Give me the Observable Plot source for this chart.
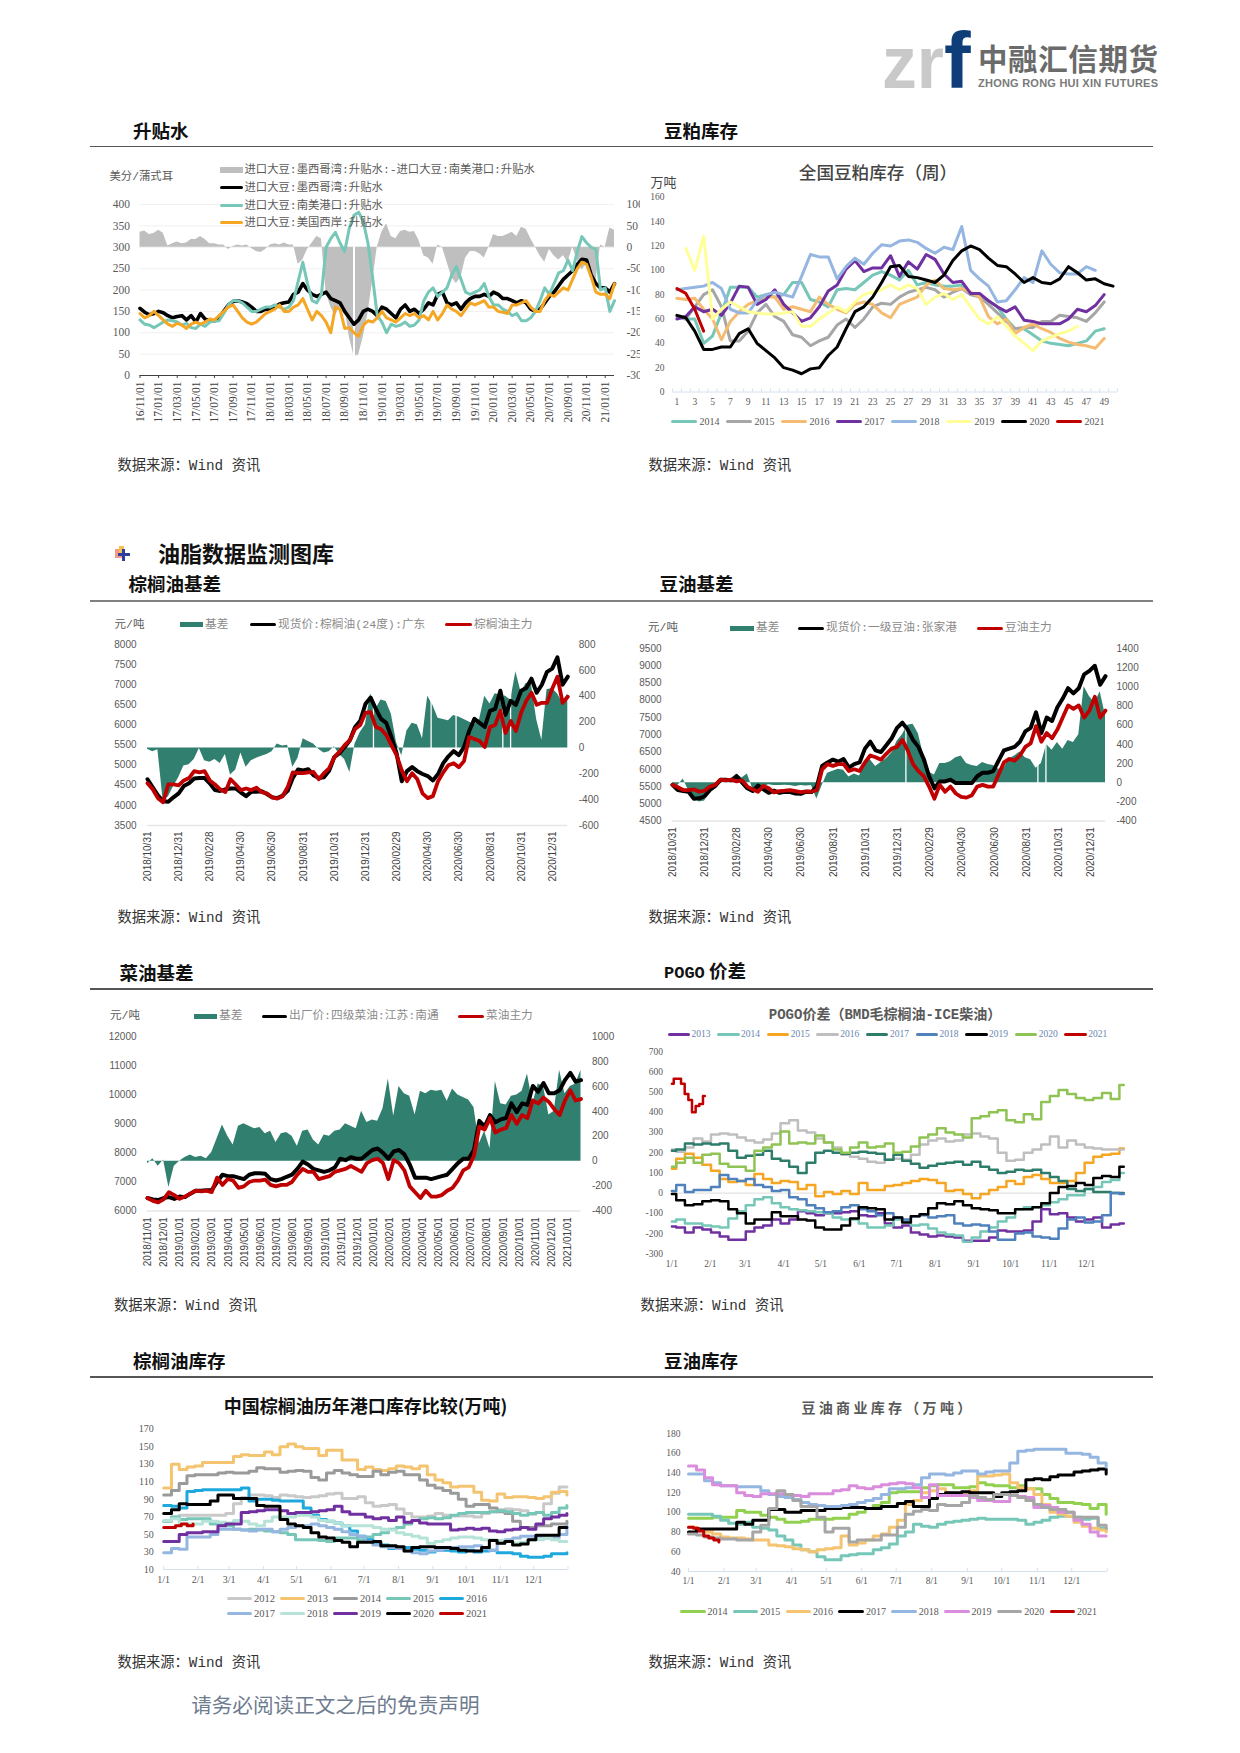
<!DOCTYPE html>
<html><head><meta charset="utf-8">
<script src="https://cdn.jsdelivr.net/npm/d3@7"></script>
<script src="https://cdn.jsdelivr.net/npm/@observablehq/plot@0.6"></script>
<style>
html,body{margin:0;padding:0;background:#fff}
#page{position:relative;width:1240px;height:1753px;overflow:hidden;font-family:"Noto Sans CJK SC",sans-serif;background:#fff}
.t{position:absolute;white-space:nowrap;line-height:1.1}
.b{position:absolute}
</style></head><body><div id="page"></div>
<script>
/* ---------- chart 1: 升贴水 ---------- */
const c1Labels=["16/11/01","17/01/01","17/03/01","17/05/01","17/07/01","17/09/01","17/11/01","18/01/01","18/03/01","18/05/01","18/07/01","18/09/01","18/11/01","19/01/01","19/03/01","19/05/01","19/07/01","19/09/01","19/11/01","20/01/01","20/03/01","20/05/01","20/07/01","20/09/01","20/11/01","21/01/01"];
const c1Black=[157,148,142,145,150,147,140,135,138,140,130,140,125,145,132,128,128,135,150,165,173,175,172,168,160,150,150,155,153,160,167,170,172,190,195,215,200,190,185,190,195,180,175,170,150,135,120,130,150,155,150,140,160,155,145,135,155,165,150,155,145,155,170,165,190,195,170,165,170,155,170,180,185,185,190,185,195,190,180,180,175,170,175,170,155,150,155,170,185,195,210,225,235,245,260,272,270,235,215,205,205,195,215];
const c1Teal=[130,120,118,112,118,125,130,128,125,118,122,112,110,120,115,125,127,128,145,165,175,175,170,160,150,150,155,160,160,165,160,155,160,175,220,265,215,175,170,190,300,320,335,310,290,345,375,382,360,310,230,140,125,100,120,115,118,125,115,118,130,175,195,205,185,195,205,235,255,225,195,190,195,200,215,185,165,165,155,150,140,145,128,128,135,150,175,205,190,215,240,245,270,245,290,325,310,300,295,200,205,150,175];
const c1Orange=[145,135,140,150,140,130,120,115,122,118,110,120,125,120,125,132,130,140,150,160,165,150,135,125,120,125,135,145,150,155,165,150,150,160,165,180,155,130,150,140,125,100,160,155,110,112,100,92,118,128,125,135,150,135,130,125,135,145,140,145,135,140,130,150,130,145,165,155,150,140,155,170,165,170,175,160,160,150,148,145,165,165,170,175,160,150,150,175,190,185,195,205,200,225,250,265,260,230,195,190,190,180,215];
const c1Basis=[35,38,30,32,40,33,3,8,12,8,10,18,18,25,18,8,8,5,5,-5,2,5,3,5,-3,-10,-12,-5,5,8,5,10,5,5,-40,-30,-5,10,25,20,-105,-140,-160,-140,-140,-210,-255,-252,-210,-155,-80,0,35,55,25,20,37,40,35,37,15,-20,-25,-40,5,0,-35,-70,-85,-70,-25,-10,-10,-15,-25,0,30,25,25,30,35,25,47,42,20,0,-20,-35,-5,-20,-30,-20,-35,0,-30,-53,-40,-65,-80,5,0,45,40];

/* ---------- chart 2: 豆粕库存 ---------- */
const c2Y2014=[62,60,60,40,46,65,86,86,86,78,80,78,80,90,90,76,74,70,84,85,84,90,96,99,96,92,100,88,90,88,87,87,88,80,80,75,70,60,52,52,47,42,40,39,38,40,42,50,52];
const c2Y2015=[62,60,70,80,84,70,42,42,50,65,72,62,58,47,45,38,42,45,55,60,53,60,70,73,72,78,82,84,86,84,78,82,85,80,78,72,65,58,52,53,53,58,58,63,62,61,58,65,74];
const c2Y2016=[77,76,77,68,60,43,58,66,72,75,78,78,68,70,68,66,78,72,68,65,72,74,72,65,61,72,75,78,88,92,85,84,85,82,78,62,56,60,48,53,56,52,49,44,41,39,38,36,44];
const c2Y2017=[60,62,70,66,68,63,73,87,86,72,76,84,72,65,58,61,70,83,88,101,108,99,102,102,112,95,107,101,113,109,97,90,91,81,81,75,70,66,70,59,58,56,56,56,60,68,66,71,80];
const c2Y2018=[84,85,86,87,90,85,68,65,65,75,80,82,80,78,95,113,111,111,93,103,110,105,114,121,120,124,125,123,118,114,119,117,136,100,93,87,74,75,84,94,90,116,105,98,97,97,103,100];
const c2Y2019=[null,118,100,128,60,68,74,70,66,65,64,64,65,66,54,54,60,65,70,66,74,80,82,84,88,84,88,85,72,78,81,76,80,70,60,56,62,54,46,40,34,42,45,48,50,54];
const c2Y2020=[63,61,50,35,35,37,37,48,52,40,34,28,20,18,15,19,20,30,37,52,66,70,78,90,103,104,95,94,92,90,96,108,116,120,117,110,104,103,97,90,94,90,89,93,103,98,92,93,89,87];
const c2Y2021=[85,81,68,50];
const c2Years=["2014","2015","2016","2017","2018","2019","2020","2021"];
const c2Colors=["#76c7b7","#a6a6a6","#f4bc72","#7030a0","#94b6e0","#ffff99","#000000","#c00000"];

/* ---------- chart 3: 棕榈油基差 ---------- */
const basisLabels=["2018/10/31","2018/12/31","2019/02/28","2019/04/30","2019/06/30","2019/08/31","2019/10/31","2019/12/31","2020/02/29","2020/04/30","2020/06/30","2020/08/31","2020/10/31","2020/12/31"];
const c3Black=[4650,4450,4250,4100,4090,4200,4300,4480,4550,4670,4680,4680,4550,4380,4360,4400,4420,4420,4320,4230,4340,4340,4350,4280,4200,4180,4240,4360,4680,4890,4870,4900,4750,4680,4700,4860,5200,5300,5450,5620,5950,6100,6520,6680,6400,6150,6050,5700,5300,4600,4850,4950,4850,4780,4730,4620,4780,5050,5220,5350,5250,5450,5850,6150,6050,5950,6350,6400,6850,6250,6600,6500,6850,6920,7150,6800,7000,7320,7400,7680,7000,7200];
const c3Red=[4550,4400,4180,4080,4520,4520,4500,4620,4680,4850,4820,4850,4620,4520,4400,4330,4650,4520,4380,4420,4380,4440,4330,4300,4200,4170,4220,4450,4820,4800,4800,4820,4830,4650,4800,4920,5200,5330,5500,5620,5900,6000,6300,6320,5950,5900,5750,5500,5250,4870,4600,4800,4650,4300,4180,4230,4600,4820,5000,5050,4950,5100,5700,5650,5600,5450,5950,6000,6350,5800,6100,5850,6300,6600,6800,6500,6550,6550,6900,7200,6550,6700];
const c3Basis=[-10,-30,-15,-400,-380,-300,-230,-140,-130,-90,-5,-100,-110,-90,-120,-50,-210,-170,-40,-150,-100,-80,-65,-50,-30,30,15,20,-150,-80,70,50,30,-10,-40,-30,10,-50,-90,-190,30,120,180,420,300,370,360,260,40,-60,130,190,180,70,400,330,230,220,210,250,240,220,200,180,220,400,340,420,410,400,370,590,430,500,490,220,60,450,460,420,350,420];
const c3Gaps=[14.5,18.2,19.8,22.8,23.3];

/* ---------- chart 4: 豆油基差 ---------- */
const c4Black=[5550,5400,5370,5350,5150,5160,5220,5400,5520,5700,5700,5680,5800,5620,5450,5370,5530,5420,5320,5380,5320,5350,5340,5300,5290,5350,5340,5500,6100,6200,6280,6220,6300,6050,6150,6200,6600,6800,6550,6500,6700,6900,7200,7350,7150,6850,6650,6300,5800,5450,5650,5650,5700,5600,5600,5600,5600,5800,5900,5900,5950,6250,6550,6600,6650,6800,7100,7200,7650,7050,7500,7400,7800,8050,8350,8200,8350,8750,8850,9000,8450,8700];
const c4Red=[5550,5480,5400,5400,5420,5350,5380,5500,5550,5700,5680,5700,5650,5680,5500,5420,5350,5520,5450,5330,5370,5380,5400,5370,5340,5360,5350,5400,6000,6150,6100,6150,6150,5950,6000,5950,6200,6400,6350,6280,6450,6600,6650,6850,6550,6150,5950,5800,5500,5150,5550,5350,5500,5300,5200,5180,5250,5500,5550,5500,5500,5850,6200,6300,6250,6400,6650,6750,7250,6800,7050,6900,7150,7500,7850,7750,7850,7500,7700,8100,7500,7700];
const c4Basis=[-20,-30,40,-80,-160,-200,-190,-100,-50,-10,10,40,90,50,90,-60,-90,-40,-20,-30,-30,-25,-30,-40,-30,-35,-30,-170,-30,100,120,140,130,60,90,70,220,240,170,210,250,310,430,500,600,610,510,280,110,80,200,200,220,260,280,200,180,170,210,190,180,140,150,250,280,320,260,240,150,200,400,340,420,350,440,420,500,1000,900,830,950,700];
const c4Gaps=[14.5,22.7,23.2];

/* ---------- chart 5: 菜油基差 ---------- */
const c5Labels=["2018/11/01","2018/12/01","2019/01/01","2019/02/01","2019/03/01","2019/04/01","2019/05/01","2019/06/01","2019/07/01","2019/08/01","2019/09/01","2019/10/01","2019/11/01","2019/12/01","2020/01/01","2020/02/01","2020/03/01","2020/04/01","2020/05/01","2020/06/01","2020/07/01","2020/08/01","2020/09/01","2020/10/01","2020/11/01","2020/12/01","2021/01/01"];
const c5Black=[6450,6400,6380,6450,6480,6420,6500,6480,6600,6700,6700,6720,6720,7000,7250,7200,7200,7150,7100,7250,7300,7300,7280,7100,7050,7100,7180,7250,7450,7700,7600,7450,7400,7350,7400,7500,7800,7750,7850,7800,7800,7950,8100,8150,8000,7800,8050,8100,7950,7600,7150,7150,7150,7100,7150,7200,7250,7450,7650,7800,7800,8100,9100,8900,9300,9050,9150,9200,9700,9400,9700,9650,10300,10100,10400,10050,10050,10150,10500,10750,10450,10500];
const c5Red=[6450,6350,6300,6400,6650,6550,6420,6500,6600,6700,6680,6700,6650,7150,6900,7100,7050,6800,6850,7000,7050,7050,7080,6900,6850,6900,6900,7000,7250,7450,7350,7350,7100,7150,7200,7350,7400,7450,7550,7450,7350,7650,7750,7800,7650,7100,7750,7650,7400,6850,6650,6450,6700,6500,6500,6550,6700,6800,7050,7400,7500,7900,8900,8800,9200,8700,8800,8850,9300,9000,9300,9200,9800,9700,9900,9750,9500,9300,9800,10150,9800,9850];
const c5Basis=[-20,20,-40,10,-210,-40,0,30,50,30,40,20,70,180,290,200,130,280,300,280,260,270,220,240,150,220,230,200,120,240,250,170,130,210,200,240,250,300,280,260,400,310,330,320,420,660,360,600,540,520,370,560,540,570,560,570,480,580,530,510,490,430,140,240,100,640,460,450,520,530,560,700,460,620,600,370,400,730,540,600,620,730];

/* ---------- chart 6: POGO 价差 ---------- */
const monthDays=[0,31,59,90,120,151,181,212,243,273,304,334];
const monthLabels=["1/1","2/1","3/1","4/1","5/1","6/1","7/1","8/1","9/1","10/1","11/1","12/1"];
const c6Y2013=[-165,-170,-195,-170,-180,-195,-215,-230,-230,-190,-170,-160,-130,-150,-130,-90,-100,-110,-100,-100,-95,-90,-110,-115,-100,-150,-170,-160,-195,-205,-215,-210,-215,-220,-235,-235,-235,-220,-185,-190,-190,-185,-140,-80,-105,-100,-120,-140,-130,-120,-170,-155,-150];
const c6Y2014=[-140,-130,-150,-150,-160,-165,-170,-125,-90,-60,-30,-20,-50,-70,-80,-85,-90,-95,-100,-120,-130,-130,-150,-170,-170,-160,-130,-140,-160,-155,-175,-195,-205,-210,-240,-220,-190,-170,-140,-120,-80,-70,-70,-60,-45,-30,-10,-10,20,30,55,65,100];
const c6Y2015=[120,170,195,175,140,110,70,55,60,40,95,70,50,60,55,20,40,-15,5,-5,10,-5,50,15,15,35,40,50,60,70,65,50,10,15,-5,-25,-5,15,30,60,45,80,90,70,50,50,60,100,150,180,190,195,220];
const c6Y2016=[215,205,225,270,255,290,295,290,275,260,250,265,295,345,360,310,300,270,250,225,190,180,170,155,150,165,170,165,190,240,260,270,255,260,290,295,280,270,200,160,165,200,215,240,280,225,260,240,225,220,215,215,215];
const c6Y2017=[210,215,245,240,245,240,245,210,175,185,190,210,170,160,130,100,150,200,210,200,195,200,205,200,195,165,190,160,145,125,135,145,150,155,140,155,130,115,100,105,115,110,115,100,80,60,20,10,20,5,5,0,0];
const c6Y2018=[10,40,5,15,15,30,90,70,60,70,40,30,10,15,-20,-30,-60,-75,-95,-90,-70,-60,-80,-90,-110,-100,-120,-130,-115,-110,-120,-115,-110,-150,-160,-155,-160,-190,-230,-230,-200,-195,-215,-220,-225,-175,-130,-120,-145,-140,-110,0,-5];
const c6Y2019=[-5,-35,-60,-55,-40,-35,-40,-80,-100,-150,-130,-130,-95,-115,-115,-130,-135,-170,-180,-180,-160,-125,-70,-75,-80,-130,-120,-145,-115,-105,-75,-50,-55,-40,-60,-75,-80,-85,-100,-100,-80,-80,-70,-50,0,30,35,50,40,75,85,80,130];
const c6Y2020=[130,150,175,150,190,195,145,130,130,110,210,225,240,305,245,250,245,285,250,215,200,225,250,225,230,245,200,205,230,275,290,320,300,290,275,370,380,400,410,360,350,390,365,450,480,510,490,470,460,470,495,465,535];
const c6Y2021=[540,565,565,540,490,460,400,430,440,480];
const c6Years=["2013","2014","2015","2016","2017","2018","2019","2020","2021"];
const c6Colors=["#7030a0","#76c7b7","#f5a623","#bfbfbf","#2e7d6b","#4f81bd","#000000","#8fc454","#c00000"];

/* ---------- chart 7: 棕榈油库存 ---------- */
const c7Y2012=[65,70,72,72,72,72,72,72,74,85,92,95,95,94,92,95,94,93,92,93,94,96,97,91,91,93,86,82,83,84,79,74,70,70,71,74,72,71,71,71,70,74,76,78,79,78,77,73,75,85,97,104,104];
const c7Y2013=[103,130,124,127,128,132,132,132,132,139,141,140,140,144,141,150,153,150,148,148,140,146,146,135,135,124,127,124,123,125,128,127,125,128,118,112,109,104,105,105,98,89,88,96,92,93,93,92,91,93,98,99,95];
const c7Y2014=[95,100,108,117,118,118,118,120,121,120,120,122,126,125,125,121,122,123,122,115,112,120,123,120,118,116,116,122,118,121,122,118,118,112,106,103,100,97,90,82,84,84,80,76,74,65,58,58,60,60,62,62,65];
const c7Y2015=[65,70,67,68,68,68,62,62,60,56,55,56,55,54,53,52,50,44,44,44,43,42,46,46,46,44,47,50,52,56,58,62,66,68,69,68,69,72,74,75,75,75,76,77,76,74,72,74,75,72,75,80,83];
const c7Y2016=[83,82,80,99,100,101,101,101,101,101,103,88,90,90,89,88,88,88,80,72,67,65,63,60,54,48,44,40,38,34,34,35,33,32,30,32,32,31,30,32,30,31,32,29,29,28,25,24,24,25,28,28,29];
const c7Y2017=[29,34,33,47,47,47,50,56,56,56,55,54,56,56,53,56,58,60,60,62,60,58,56,53,50,48,42,38,36,35,34,31,29,28,31,32,34,35,36,36,37,34,32,40,44,46,48,48,48,46,46,50,60];
const c7Y2018=[66,68,62,62,62,65,65,64,63,66,65,62,60,65,70,70,70,72,72,70,66,65,63,60,60,60,60,58,56,55,52,50,48,46,40,42,44,46,47,47,46,44,44,43,42,40,41,44,44,46,44,42,42];
const c7Y2019=[42,42,50,52,52,53,53,60,62,62,75,76,77,78,78,77,74,75,75,76,77,78,82,76,73,73,70,68,69,66,70,64,66,63,62,62,62,55,56,57,56,57,54,53,55,56,58,56,62,68,70,72,74];
const c7Y2020=[74,78,85,84,84,84,88,95,95,91,91,91,83,82,82,67,62,60,58,52,47,46,43,41,36,41,41,42,37,37,36,31,35,36,36,35,35,34,32,31,31,35,43,40,42,38,39,44,49,49,49,58,58];
const c7Y2021=[58,58,60,62,60,62];
const c7Years=["2012","2013","2014","2015","2016","2017","2018","2019","2020","2021"];
const c7Colors=["#c9c9c9","#f4c470","#9a9a9a","#76c7b7","#1fa8dc","#94b6e0","#b5e3d8","#7030a0","#000000","#c00000"];

/* ---------- chart 8: 豆油库存 ---------- */
const c8Y2014=[94,94,94,95,95,95,102,100,100,97,95,93,90,90,91,93,93,93,94,94,98,100,104,107,110,120,121,121,121,125,127,128,128,125,125,126,130,128,127,127,125,127,124,124,118,114,110,110,109,108,104,108,98];
const c8Y2015=[98,98,98,96,92,89,88,90,85,84,82,76,72,67,62,60,55,52,52,56,57,58,58,62,64,68,76,80,88,86,85,88,90,91,92,93,94,93,93,93,93,92,88,90,92,95,96,96,95,93,94,84,82];
const c8Y2016=[85,82,80,78,75,74,74,73,72,72,67,66,65,63,62,60,62,63,64,76,67,69,72,76,78,85,92,108,112,120,122,124,120,118,118,122,137,137,138,139,130,125,124,118,108,100,98,96,90,86,84,82,80];
const c8Y2017=[80,83,83,83,83,83,90,88,92,92,103,103,100,100,102,102,102,104,104,105,105,105,104,104,106,106,109,111,106,106,114,118,120,120,121,120,120,120,116,120,121,122,133,134,133,136,138,138,141,142,143,144,139];
const c8Y2018=[139,139,132,130,127,127,126,126,126,122,118,116,115,113,110,108,107,106,106,107,108,110,112,114,118,124,124,125,128,135,139,139,138,140,142,142,139,141,142,142,150,162,163,164,164,164,164,160,160,159,156,150,146];
const c8Y2019=[147,143,135,128,127,127,120,117,116,119,119,119,118,117,116,119,119,119,122,123,127,125,124,126,128,129,130,129,125,115,128,117,117,117,117,115,112,112,111,111,117,116,115,105,107,105,100,100,92,88,80,76,76];
const c8Y2020=[78,77,75,74,73,73,72,72,80,87,104,122,118,112,106,106,95,80,84,84,70,72,72,72,77,77,85,98,101,103,102,108,107,107,110,117,115,113,118,118,117,115,112,108,105,103,103,100,95,95,95,87,84];
const c8Y2021=[85,84,81,76,74,72,70];
const c8Years=["2014","2015","2016","2017","2018","2019","2020","2021"];
const c8Colors=["#92d050","#76c7b7","#f4c470","#000000","#94b6e0","#d98ddc","#a6a6a6","#c00000"];

/* ---------- helpers ---------- */
const page=document.getElementById("page");
const SERIF='"Liberation Serif","Noto Sans CJK SC",serif';
const SANS='"Liberation Sans",Arial,sans-serif';
const CJK='"Noto Sans CJK SC",sans-serif';
const MONO='"Liberation Mono","Noto Sans CJK SC",monospace';
const plain=d=>String(d);
function text(s,x,y,o={}){
  const d=document.createElement("div");d.className="t";d.textContent=s;
  d.style.left=x+"px";d.style.top=y+"px";
  d.style.transform=`translate(${o.mid?"-50%":"0"},-50%)`;
  d.style.fontSize=(o.size||12)+"px";d.style.fontWeight=o.weight||400;
  d.style.color=o.color||"#222";d.style.fontFamily=o.family||CJK;
  if(o.ls)d.style.letterSpacing=o.ls+"px";
  page.appendChild(d);return d;
}
function box(x,y,w,h,c,r){
  const d=document.createElement("div");d.className="b";
  d.style.cssText+=`left:${x}px;top:${y}px;width:${w}px;height:${h}px;background:${c};`+(r?`border-radius:${r}px;`:"");
  page.appendChild(d);return d;
}
function swatchText(s,x0,x1,tx,y,color,o){
  box(x0,y-1.5,x1-x0,3,color,2);
  text(s,tx,y,o);
}
function pts(arr,span,off=0){
  return arr.flatMap((v,i)=>v==null?[]:[{x:off+i*span/(arr.length-1),y:v}]);
}
function chart(c){
  const p=Plot.plot({
    width:c.sR-c.sL,height:c.sB-c.sT,
    marginLeft:c.L-c.sL,marginRight:c.sR-c.R,marginTop:c.T-c.sT,marginBottom:c.sB-c.B,
    x:{domain:c.xd,axis:null},y:{domain:c.yd,axis:null},
    style:{position:"absolute",left:c.sL+"px",top:c.sT+"px",background:"transparent",fontFamily:c.font,fontSize:c.fs+"px",maxWidth:"none",overflow:"hidden"},
    marks:c.marks
  });
  page.appendChild(p);
}
function dualAxis(yd,rd,rTicks,color,pad){
  const toL=r=>yd[0]+(r-rd[0])*(yd[1]-yd[0])/(rd[1]-rd[0]);
  const toR=l=>rd[0]+(l-yd[0])*(rd[1]-rd[0])/(yd[1]-yd[0]);
  return {toL,mark:Plot.axisY({anchor:"right",ticks:rTicks.map(toL),tickFormat:d=>String(Math.round(toR(d))),tickSize:0,tickPadding:pad,color,label:null})};
}

/* ---------- page furniture ---------- */
[[146.7,1.5,"#555"],[600.5,2,"#808080"],[989.2,1.5,"#555"],[1377,1.5,"#555"]].forEach(([y,h,c])=>box(89.5,y-h/2,1063.5,h,c));
const H={size:18.5,weight:700,color:"#111"};
text("升贴水",133,129.8,H);text("豆粕库存",664,129.8,H);
text("棕榈油基差",128.6,582.6,H);text("豆油基差",659.6,582.6,H);
text("菜油基差",119.6,971.7,H);
const pg=text("",664,971.7,H);pg.innerHTML='<span style="font-family:\'Liberation Mono\';font-size:17px">POGO</span> 价差';
text("棕榈油库存",133,1359.6,H);text("豆油库存",664,1359.6,H);
text("油脂数据监测图库",158,552.4,{size:22,weight:700,color:"#111"});
box(114.5,549,9,9,"#f49a8c");box(119,546,5,8,"#f3c14b");box(118,553,12,3,"#2f3f9e");box(122,549,3,12,"#2f3f9e");
const SRC={size:14.3,color:"#333",family:MONO};
[[117.4,466.5],[648.4,466.5],[117.4,919.3],[648.4,919.3],[114,1307.2],[640.6,1307.2],[117.4,1664.3],[648.4,1664.3]].forEach(([x,y])=>text("数据来源\uFF1AWind 资讯",x,y,SRC));
text("请务必阅读正文之后的免责声明",191.2,1703.8,{size:20.6,color:"#6e7c90"});

/* logo */
const logo=document.createElementNS("http://www.w3.org/2000/svg","svg");
logo.setAttribute("width","300");logo.setAttribute("height","80");
logo.style.cssText="position:absolute;left:875px;top:20px";
logo.innerHTML=`<text x="7" y="67.5" font-family="Liberation Sans" font-weight="700" font-size="74" fill="#c9c9c9" textLength="62" lengthAdjust="spacingAndGlyphs">zr</text>
<text x="69" y="67.5" font-family="Liberation Sans" font-weight="700" font-size="80" fill="#0f3d7a">f</text>
<text x="103" y="50" font-family="Noto Sans CJK SC" font-weight="700" font-size="29.5" fill="#6b6b6b" textLength="180">中融汇信期货</text>
<text x="103" y="67" font-family="Liberation Sans" font-weight="700" font-size="11" fill="#7a7a7a" textLength="180">ZHONG RONG HUI XIN FUTURES</text>`;
page.appendChild(logo);

/* ---------- chart 1 ---------- */
{
  const yt=[0,50,100,150,200,250,300,350,400], L1=dualAxis([0,400],[-300,100],[100,50,0,-50,-100,-150,-200,-250,-300],"#595959",12);
  chart({sL:100,sR:639.5,sT:195,sB:445,L:139.5,R:614,T:204,B:375,xd:[0,51],yd:[0,400],font:SERIF,fs:11.5,marks:[
    Plot.ruleY(yt.slice(1),{stroke:"#f0f0f0"}),
    Plot.areaY(pts(c1Basis,51).map(d=>({x:d.x,y:d.y+300})),{x:"x",y1:300,y2:"y",fill:"#bfbfbf"}),
    Plot.ruleX([23],{y1:45,y2:300,stroke:"#fff",strokeWidth:2}),
    Plot.ruleY([0],{stroke:"#404040",strokeWidth:1.2}),
    Plot.line(pts(c1Black,51),{x:"x",y:"y",stroke:"#000",strokeWidth:3.6}),
    Plot.line(pts(c1Teal,51),{x:"x",y:"y",stroke:"#76c7b7",strokeWidth:3}),
    Plot.line(pts(c1Orange,51),{x:"x",y:"y",stroke:"#f5a623",strokeWidth:3}),
    Plot.axisY({anchor:"left",ticks:yt,tickFormat:plain,tickSize:0,tickPadding:10,color:"#595959",label:null}),
    L1.mark,
    Plot.axisX({ticks:c1Labels.map((_,i)=>i*2),tickFormat:d=>c1Labels[d/2],tickRotate:-90,tickSize:3,tickPadding:3,color:"#404040",label:null})
  ]});
  const O={size:11.35,color:"#595959",family:MONO};
  text("美分/蒲式耳",109.5,177,O);
  box(220,166.8,23,6,"#bfbfbf");text("进口大豆:墨西哥湾:升贴水:-进口大豆:南美港口:升贴水",244.5,169.8,O);
  swatchText("进口大豆:墨西哥湾:升贴水",220,243,244.5,187.7,"#000",O);
  swatchText("进口大豆:南美港口:升贴水",220,243,244.5,205.6,"#76c7b7",O);
  swatchText("进口大豆:美国西岸:升贴水",220,243,244.5,222.6,"#f5a623",O);
}
/* ---------- chart 2 ---------- */
{
  const ser=[c2Y2014,c2Y2015,c2Y2016,c2Y2017,c2Y2018,c2Y2019,c2Y2020,c2Y2021];
  const wkTicks=d3.range(0.5,51,1), wkLabels=d3.range(1,50,2);
  chart({sL:642,sR:1135,sT:190,sB:412,L:672,R:1117,T:196.8,B:391.5,xd:[0.5,50.5],yd:[0,160],font:SERIF,fs:9.5,marks:[
    Plot.ruleY([0],{stroke:"#d5e0ee"}),
    Plot.axisX({ticks:wkTicks,tickFormat:()=>"",tickSize:-3,color:"#d5e0ee",label:null}),
    ...ser.map((a,k)=>Plot.line(pts(a,a.length-1,1),{x:"x",y:"y",stroke:c2Colors[k],strokeWidth:3})),
    Plot.axisY({anchor:"left",ticks:d3.range(0,161,20),tickFormat:plain,tickSize:0,tickPadding:8,color:"#595959",label:null}),
    Plot.axisX({ticks:wkLabels,tickFormat:plain,tickSize:0,tickPadding:6,color:"#595959",label:null})
  ]});
  text("全国豆粕库存\uFF08周\uFF09",878,172.2,{size:17.6,weight:500,color:"#444",mid:true});
  text("万吨",650.5,182.2,{size:13,color:"#444"});
  c2Years.forEach((y,i)=>swatchText(y,671+i*55,697+i*55,699.5+i*55,421.3,c2Colors[i],{size:10,color:"#595959",family:SERIF}));
}
/* ---------- charts 3,4,5 ---------- */
function basisChart(c){
  const R=dualAxis(c.yd,c.rd,c.rt,"#595959",11);
  const z=R.toL(0);
  chart({sL:c.L-45,sR:c.R+40,sT:c.T-8,sB:c.B+62,L:c.L,R:c.R,T:c.T,B:c.B,xd:[0,c.end],yd:c.yd,font:SANS,fs:10,marks:[
    Plot.ruleY([c.yd[0]],{stroke:"#e6e6e6",strokeWidth:1.5}),
    Plot.areaY(pts(c.basis,c.end).map(d=>({x:d.x,y:R.toL(d.y)})),{x:"x",y1:z,y2:"y",fill:"#317f6f"}),
    Plot.ruleX(c.gaps,{y1:R.toL(c.rd[0]),y2:R.toL(c.rd[1]),stroke:"#fff",strokeWidth:1.3}),
    Plot.line(pts(c.black,c.end),{x:"x",y:"y",stroke:"#000",strokeWidth:4}),
    Plot.line(pts(c.red,c.end),{x:"x",y:"y",stroke:"#c00000",strokeWidth:3.8}),
    Plot.axisY({anchor:"left",ticks:c.lt,tickFormat:plain,tickSize:0,tickPadding:11,color:"#595959",label:null}),
    R.mark,
    Plot.axisX({ticks:c.lab.map((_,i)=>i*c.step),tickFormat:d=>c.lab[Math.round(d/c.step)],tickRotate:-90,tickSize:0,tickPadding:6,color:"#404040",label:null})
  ]});
  const O={size:11.7,color:"#8a8a8a",family:MONO};
  const y=c.leg.y+2;
  text("元/吨",c.leg.unit,y,{size:11.5,color:"#595959",family:MONO});
  box(c.leg.a[0],y-2.5,c.leg.a[1]-c.leg.a[0],5,"#317f6f");text("基差",c.leg.a[1]+2,y,O);
  swatchText(c.leg.bt,c.leg.b[0],c.leg.b[1],c.leg.b[1]+2,y,"#000",O);
  swatchText(c.leg.rt,c.leg.r[0],c.leg.r[1],c.leg.r[1]+2,y,"#c00000",O);
}
basisChart({L:146.5,R:566.8,T:644,B:825,yd:[3500,8000],rd:[-600,800],lt:d3.range(3500,8001,500),rt:d3.range(-600,801,200),end:26.97,step:2,lab:basisLabels,basis:c3Basis,black:c3Black,red:c3Red,gaps:c3Gaps,
  leg:{unit:114.5,y:622.7,a:[180,203],b:[250,276],r:[445,472],bt:"现货价:棕榈油(24度):广东",rt:"棕榈油主力"}});
basisChart({L:672,R:1105,T:647.7,B:820.3,yd:[4500,9500],rd:[-400,1400],lt:d3.range(4500,9501,500),rt:d3.range(-400,1401,200),end:26.9,step:2,lab:basisLabels,basis:c4Basis,black:c4Black,red:c4Red,gaps:c4Gaps,
  leg:{unit:648,y:626,a:[730,754],b:[798,824],r:[977,1003],bt:"现货价:一级豆油:张家港",rt:"豆油主力"}});
basisChart({L:147,R:580.5,T:1035.7,B:1210.3,yd:[6000,12000],rd:[-400,1000],lt:d3.range(6000,12001,1000),rt:d3.range(-400,1001,200),end:26.8,step:1,lab:c5Labels,basis:c5Basis,black:c5Black,red:c5Red,gaps:[],
  leg:{unit:110,y:1014,a:[194,217],b:[262,287],r:[458,484],bt:"出厂价:四级菜油:江苏:南通",rt:"菜油主力"}});
/* ---------- chart 6 ---------- */
{
  const ser=[c6Y2013,c6Y2014,c6Y2015,c6Y2016,c6Y2017,c6Y2018,c6Y2019,c6Y2020];
  chart({sL:640,sR:1140,sT:1044,sB:1272,L:671.4,R:1124.5,T:1051,B:1253.3,xd:[0,365],yd:[-300,700],font:SERIF,fs:9.5,marks:[
    Plot.ruleY([0],{stroke:"#dcdcdc"}),
    ...ser.map((a,k)=>Plot.line(pts(a,364),{x:"x",y:"y",stroke:c6Colors[k],strokeWidth:2.5,curve:"step"})),
    Plot.line(pts(c6Y2021,26.5),{x:"x",y:"y",stroke:c6Colors[8],strokeWidth:2.5,curve:"step"}),
    Plot.axisY({anchor:"left",ticks:d3.range(-300,701,100),tickFormat:plain,tickSize:0,tickPadding:9,color:"#595959",label:null}),
    Plot.axisX({ticks:monthDays,tickFormat:d=>monthLabels[monthDays.indexOf(d)],tickSize:0,tickPadding:6,color:"#595959",label:null})
  ]});
  text("POGO价差\uFF08BMD毛棕榈油-ICE柴油\uFF09",885,1016,{size:14,weight:700,color:"#595959",family:MONO,mid:true});
  c6Years.forEach((y,i)=>swatchText(y,667.5+i*49.6,690+i*49.6,691.5+i*49.6,1034.2,c6Colors[i],{size:9.5,color:"#6a87b0",family:SERIF}));
}
/* ---------- chart 7 ---------- */
{
  const ser=[c7Y2012,c7Y2013,c7Y2014,c7Y2015,c7Y2016,c7Y2017,c7Y2018,c7Y2019,c7Y2020];
  chart({sL:130,sR:590,sT:1422,sB:1590,L:163.2,R:567.5,T:1428.7,B:1569,xd:[0,365],yd:[10,170],font:SERIF,fs:10,marks:[
    Plot.ruleY([10],{stroke:"#d5e0ee"}),
    Plot.axisX({ticks:[...monthDays,365],tickFormat:()=>"",tickSize:-3,color:"#d5e0ee",label:null}),
    ...ser.map((a,k)=>Plot.line(pts(a,364),{x:"x",y:"y",stroke:c7Colors[k],strokeWidth:3,curve:"step-after"})),
    Plot.line(pts(c7Y2021,26.5),{x:"x",y:"y",stroke:c7Colors[9],strokeWidth:3,curve:"step-after"}),
    Plot.axisY({anchor:"left",ticks:d3.range(10,171,20),tickFormat:plain,tickSize:0,tickPadding:10,color:"#595959",label:null}),
    Plot.axisX({ticks:monthDays,tickFormat:d=>monthLabels[monthDays.indexOf(d)],tickSize:0,tickPadding:6,color:"#595959",label:null})
  ]});
  text("中国棕榈油历年港口库存比较(万吨)",365.6,1406.4,{size:18,weight:700,color:"#111",mid:true});
  c7Years.forEach((y,i)=>{
    const r=i%5,yy=i<5?1598.5:1613.5;
    swatchText(y,227+r*53,251.5+r*53,254+r*53,yy,c7Colors[i],{size:10.5,color:"#595959",family:SERIF});
  });
}
/* ---------- chart 8 ---------- */
{
  const ser=[c8Y2014,c8Y2015,c8Y2016,c8Y2017,c8Y2018,c8Y2019,c8Y2020];
  chart({sL:650,sR:1130,sT:1426,sB:1593,L:688,R:1106.8,T:1433,B:1571,xd:[0,365],yd:[40,180],font:SERIF,fs:9.5,marks:[
    Plot.ruleY([40],{stroke:"#d5e0ee"}),
    Plot.axisX({ticks:[...monthDays,365],tickFormat:()=>"",tickSize:-3,color:"#d5e0ee",label:null}),
    ...ser.map((a,k)=>Plot.line(pts(a,364),{x:"x",y:"y",stroke:c8Colors[k],strokeWidth:3,curve:"step-after"})),
    Plot.line(pts(c8Y2021,26.5),{x:"x",y:"y",stroke:c8Colors[7],strokeWidth:3,curve:"step-after"}),
    Plot.axisY({anchor:"left",ticks:d3.range(40,181,20),tickFormat:plain,tickSize:0,tickPadding:8,color:"#595959",label:null}),
    Plot.axisX({ticks:monthDays,tickFormat:d=>monthLabels[monthDays.indexOf(d)],tickSize:0,tickPadding:6,color:"#595959",label:null})
  ]});
  text("豆油商业库存\uFF08万吨\uFF09",888,1407.7,{size:14,weight:700,color:"#595959",ls:3.3,mid:true});
  c8Years.forEach((y,i)=>swatchText(y,680+i*52.8,705.5+i*52.8,707.5+i*52.8,1611.3,c8Colors[i],{size:10,color:"#595959",family:SERIF}));
}
</script></body></html>
